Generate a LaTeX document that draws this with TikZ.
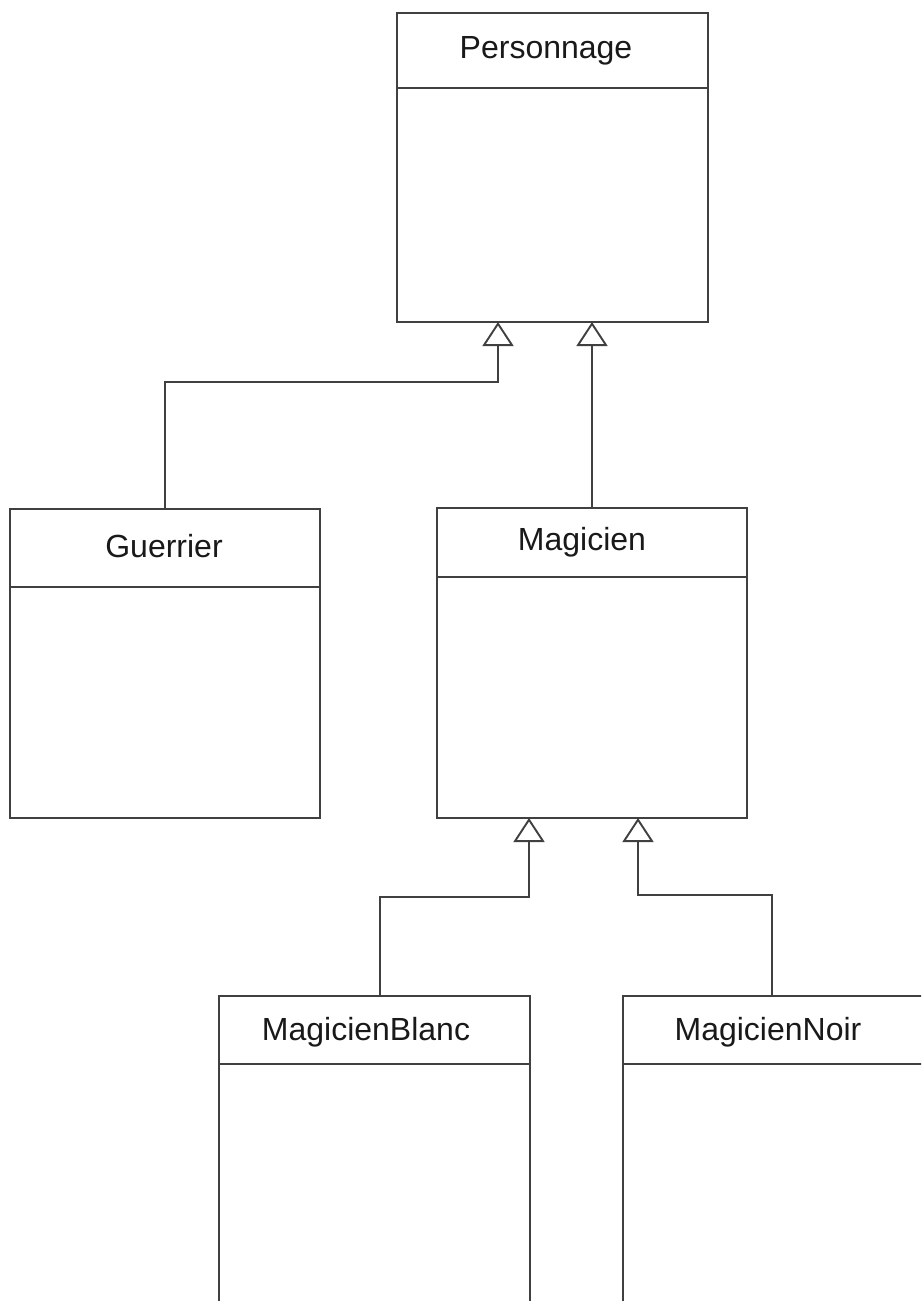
\documentclass[tikz,border=0pt]{standalone}
\usepackage{fontspec}
\setmainfont{Liberation Sans}
\usetikzlibrary{arrows.meta}
\begin{document}
\begin{tikzpicture}[x=1pt,y=-1pt,
  box/.style={draw=black!75, line width=1.9pt, rectangle, anchor=north west, inner sep=0pt, outer sep=0pt},
  sep/.style={draw=black!75, line width=1.9pt},
  lbl/.style={font=\fontsize{32}{36}\selectfont, text=black!90, anchor=base, inner sep=0pt},
  gen/.style={draw=black!75, line width=1.9pt, -{Triangle[open, length=24pt, width=31pt, fill=white]}}]
\useasboundingbox (0,0) rectangle (921,1301);
\clip (0,0) rectangle (921,1301);
\fill[white] (0,0) rectangle (921,1301);
% boxes
\node[box, minimum width=311pt, minimum height=309pt] (perso) at (397,13) {};
\node[box, minimum width=310pt, minimum height=309pt] (guerrier) at (10,509) {};
\node[box, minimum width=310pt, minimum height=310pt] (magicien) at (437,508) {};
\node[box, minimum width=311pt, minimum height=400pt] (blanc) at (219,996) {};
\node[box, minimum width=311pt, minimum height=400pt] (noir) at (623,996) {};
% header separators
\draw[sep] (perso.west |- 0,88) -- (perso.east |- 0,88);
\draw[sep] (guerrier.west |- 0,587) -- (guerrier.east |- 0,587);
\draw[sep] (magicien.west |- 0,577) -- (magicien.east |- 0,577);
\draw[sep] (blanc.west |- 0,1064) -- (blanc.east |- 0,1064);
\draw[sep] (noir.west |- 0,1064) -- (noir.east |- 0,1064);
% labels
\node[lbl] (tperso) at (546,58) {Personnage};
\node[lbl] (tguerrier) at (164,557) {Guerrier};
\node[lbl] (tmagicien) at (582,550) {Magicien};
\node[lbl] (tblanc) at (366,1040) {MagicienBlanc};
\node[lbl] (tnoir) at (768,1040) {MagicienNoir};
% connector endpoints
\coordinate (p1) at (498,322);
\coordinate (p2) at (592,322);
\coordinate (m1) at (529,818);
\coordinate (m2) at (638,818);
\coordinate (b1) at (380,996);
\coordinate (n1) at (772,996);
% generalisations
\draw[gen] (guerrier.north) -- (165,382) -| (p1);
\draw[gen] (magicien.north) -- (p2);
\draw[gen] (b1) -- (380,897) -| (m1);
\draw[gen] (n1) -- (772,895) -| (m2);
\end{tikzpicture}
\end{document}
